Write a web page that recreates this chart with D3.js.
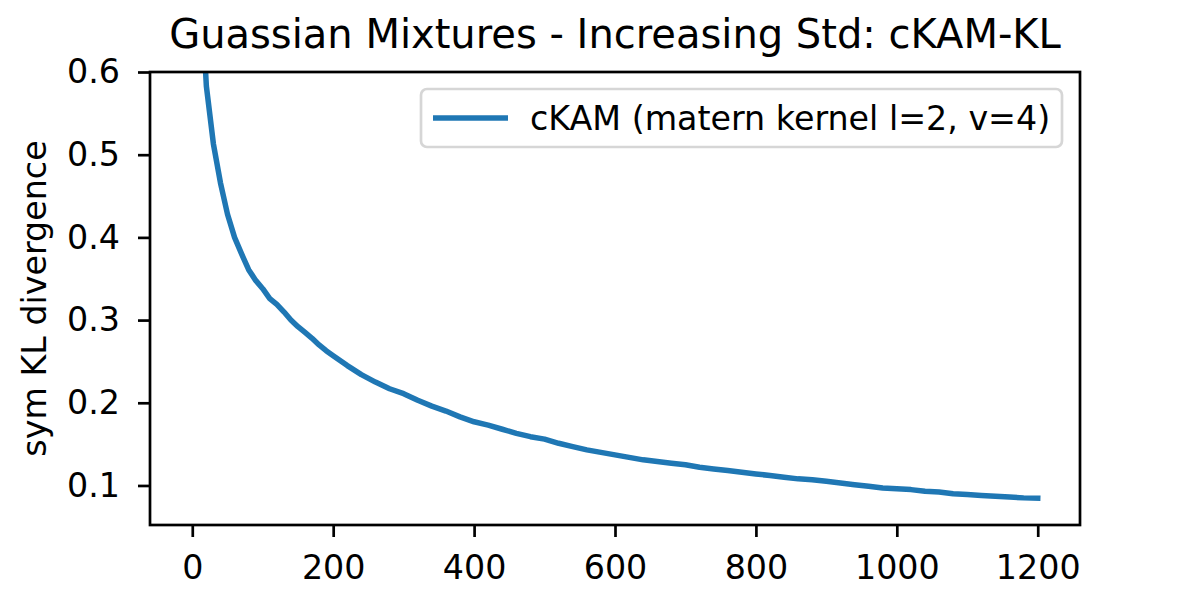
<!DOCTYPE html>
<html>
<head>
<meta charset="utf-8">
<script src="https://cdn.jsdelivr.net/npm/d3@7"></script>
<style>
  body { margin: 0; background: #fff; }
  svg { display: block; font-family: "DejaVu Sans", sans-serif; }
</style>
</head>
<body>
<svg id="chart" width="1200" height="600"></svg>
<script>
// data
var steps = [0, 10, 20, 30, 40, 50, 60, 70, 80, 90, 100, 110, 120, 130, 140, 150, 160, 170, 180, 190,
  200, 220, 240, 260, 280, 300, 320, 340, 360, 380, 400, 420, 440, 460, 480, 500, 520, 540, 560, 580,
  600, 620, 640, 660, 680, 700, 720, 740, 760, 780, 800, 820, 840, 860, 880, 900, 920, 940, 960, 980,
  1000, 1020, 1040, 1060, 1080, 1100, 1120, 1140, 1160, 1180, 1200];
var symKL = [1.05, 0.74, 0.583, 0.513, 0.466, 0.428, 0.400, 0.380, 0.361, 0.348, 0.338, 0.326, 0.319, 0.310, 0.300, 0.292, 0.285, 0.278, 0.270, 0.263,
  0.257, 0.245, 0.234, 0.225, 0.217, 0.211, 0.203, 0.196, 0.190, 0.183, 0.177, 0.173, 0.168, 0.163, 0.159, 0.156, 0.151, 0.147, 0.143, 0.140,
  0.137, 0.134, 0.131, 0.129, 0.127, 0.125, 0.122, 0.120, 0.118, 0.116, 0.114, 0.112, 0.110, 0.108, 0.107, 0.105, 0.103, 0.101, 0.099, 0.097,
  0.096, 0.095, 0.093, 0.092, 0.090, 0.089, 0.088, 0.087, 0.086, 0.085, 0.0845];
var xTicks = [0, 200, 400, 600, 800, 1000, 1200];
var yTicks = [0.1, 0.2, 0.3, 0.4, 0.5, 0.6];
var titleText = "Guassian Mixtures - Increasing Std: cKAM-KL";
var yLabel = "sym KL divergence";
var seriesName = "cKAM (matern kernel l=2, v=4)";

var mLeft = 150, mRight = 1080, mTop = 72, mBottom = 525;
var svg = d3.select("#chart");

var x = d3.scaleLinear().domain([-60, 1260]).range([mLeft, mRight]);
var y = d3.scaleLinear().domain([0.0522, 0.6]).range([mBottom, mTop]);

svg.append("defs").append("clipPath").attr("id", "plotClip")
  .append("rect").attr("x", mLeft).attr("y", mTop).attr("width", mRight - mLeft).attr("height", mBottom - mTop);

var line = d3.line().x(function(d, i) { return x(steps[i]); }).y(function(d) { return y(d); });
svg.append("path").datum(symKL)
  .attr("clip-path", "url(#plotClip)")
  .attr("d", line)
  .attr("fill", "none").attr("stroke", "#1f77b4").attr("stroke-width", 5.5)
  .attr("stroke-linejoin", "round").attr("stroke-linecap", "square");

// axes
var xAxis = svg.append("g").attr("transform", "translate(0," + mBottom + ")")
  .call(d3.axisBottom(x).tickValues(xTicks).tickSize(12).tickPadding(18).tickFormat(d3.format("d")));
var yAxis = svg.append("g").attr("transform", "translate(" + mLeft + ",0)")
  .call(d3.axisLeft(y).tickValues(yTicks).tickSize(12).tickPadding(18).tickFormat(d3.format(".1f")));
[xAxis, yAxis].forEach(function(a) {
  a.select(".domain").remove();
  a.selectAll("line").attr("stroke", "#000").attr("stroke-width", 2.7);
  a.selectAll("text").attr("font-size", 33.3).attr("fill", "#000").attr("font-family", "DejaVu Sans");
});

svg.append("rect").attr("x", mLeft).attr("y", mTop).attr("width", mRight - mLeft).attr("height", mBottom - mTop)
  .attr("fill", "none").attr("stroke", "#000").attr("stroke-width", 2.7);

svg.append("text").attr("x", (mLeft + mRight) / 2).attr("y", 48)
  .attr("text-anchor", "middle").attr("font-size", 40).text(titleText);

svg.append("text").attr("transform", "translate(46," + (mTop + mBottom) / 2 + ") rotate(-90)")
  .attr("text-anchor", "middle").attr("font-size", 33.3).text(yLabel);

// legend
var lg = svg.append("g");
lg.append("rect").attr("x", 421).attr("y", 89).attr("width", 641).attr("height", 58).attr("rx", 6)
  .attr("fill", "#fff").attr("fill-opacity", 0.8).attr("stroke", "#d6d6d6").attr("stroke-width", 2.7);
lg.append("line").attr("x1", 433).attr("x2", 508).attr("y1", 118).attr("y2", 118)
  .attr("stroke", "#1f77b4").attr("stroke-width", 5.5);
lg.append("text").attr("x", 530).attr("y", 130).attr("font-size", 33.3).text(seriesName);
</script>
</body>
</html>
